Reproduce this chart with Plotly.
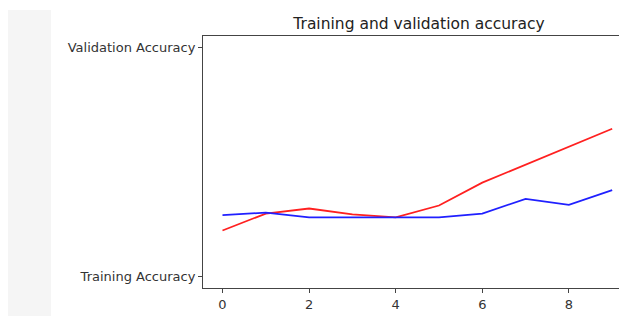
import plotly.graph_objects as go

epochs = list(range(10))
train_acc = [0.201, 0.275, 0.297, 0.271, 0.258, 0.310, 0.410, 0.489, 0.569, 0.645]
val_acc = [0.268, 0.279, 0.258, 0.258, 0.258, 0.258, 0.275, 0.339, 0.313, 0.377]
y_tick_vals = [0, 1]
y_tick_text = ["Training Accuracy", "Validation Accuracy"]
x_tick_vals = [0, 2, 4, 6, 8]

# page body has an 8px margin; compensate so the screenshot lines up
L, T, B = 195, 28, 36
PW = 627 - L
PH = 316 - T - B

fig = go.Figure()
fig.add_trace(go.Scatter(x=epochs, y=train_acc, mode="lines",
                         line=dict(color="#ff2020", width=1.8), name="Training Accuracy"))
fig.add_trace(go.Scatter(x=epochs, y=val_acc, mode="lines",
                         line=dict(color="#2020ff", width=1.8), name="Validation Accuracy"))

fig.update_layout(
    width=627, height=316,
    margin=dict(l=L, r=0, t=T, b=B),
    paper_bgcolor="white", plot_bgcolor="white",
    showlegend=False,
    font=dict(family="DejaVu Sans", color="#333333"),
    title=dict(text="Training and validation accuracy", x=0.5, xref="paper",
               y=1 - 16 / 316, yanchor="middle", xanchor="center",
               font=dict(size=15.5, color="#222222", family="DejaVu Sans")),
    xaxis=dict(range=[-0.45, -0.45 + PW / 43.3], tickvals=x_tick_vals, showgrid=False,
               zeroline=False, showline=True, linecolor="#444444", linewidth=1, mirror=True,
               ticks="outside", ticklen=4, tickcolor="#444444",
               tickfont=dict(size=13, color="#333333")),
    yaxis=dict(range=[-0.05, 1.05], tickvals=y_tick_vals, ticktext=y_tick_text,
               showgrid=False, zeroline=False, showline=True, linecolor="#444444",
               linewidth=1, ticks="outside", ticklen=4, tickcolor="#444444",
               tickfont=dict(size=13, color="#333333")),
    shapes=[dict(type="rect", xref="paper", yref="paper",
                 x0=(-1 - L) / PW, x1=(43 - L) / PW,
                 y0=-0.2, y1=(PH + T - 2) / PH,
                 fillcolor="#f5f5f5", line=dict(width=0), layer="below")],
)

fig.write_html("out.html")
